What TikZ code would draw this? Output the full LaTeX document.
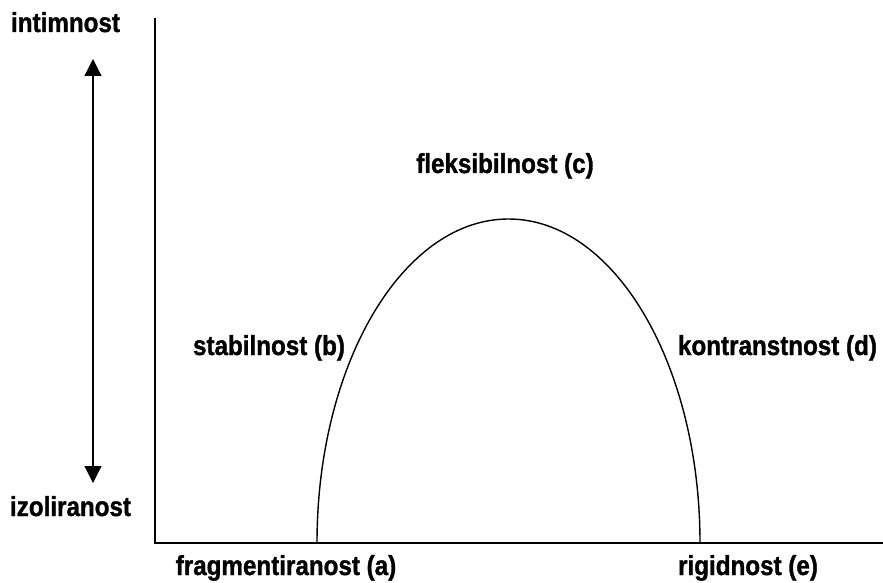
\documentclass[tikz,border=0pt]{standalone}
\usepackage{fontspec}
\setmainfont{Liberation Sans}[FakeStretch=0.88, BoldFeatures={FakeBold=1.2}]
\usepackage{tikz}
\usetikzlibrary{arrows.meta, positioning}

\tikzset{
  lbl/.style={anchor=base, inner sep=0pt, font=\bfseries\fontsize{27.5}{30}\selectfont},
  axisline/.style={line width=1.3pt},
  curveline/.style={line width=1.4pt}
}

\begin{document}
\begin{tikzpicture}[x=1pt, y=1pt]
  \useasboundingbox (0,0) rectangle (883,582);
  % axes
  \coordinate (top) at (155,564);
  \coordinate (origin) at (155,39);
  \coordinate (right) at (883,39);
  \draw[axisline] (top) -- (origin) -- (right);
  % double arrow
  \coordinate (up) at (93,523);
  \coordinate (down) at (93,99);
  \draw[line width=1.2pt, {Triangle[length=17pt,width=17pt]}-{Triangle[length=17pt,width=17pt]}] (down) -- (up);
  % curve
  \coordinate (a) at (317,39);
  \draw[curveline] (a) arc[start angle=180, end angle=0, x radius=191.5, y radius=324];
  % labels
  \node[lbl] (intim) at (65.5,550) {intimnost};
  \node[lbl] (izol) at (70.5,66) {izoliranost};
  \node[lbl] (fragm) at (286,7) {fragmentiranost (a)};
  \node[lbl] (stab) at (269,227) {stabilnost (b)};
  \node[lbl] (fleks) at (505,409) {fleksibilnost (c)};
  \node[lbl] (kontr) at (777.5,227) {kontranstnost (d)};
  \node[lbl] (rigid) at (748,7) {rigidnost (e)};
\end{tikzpicture}
\end{document}
